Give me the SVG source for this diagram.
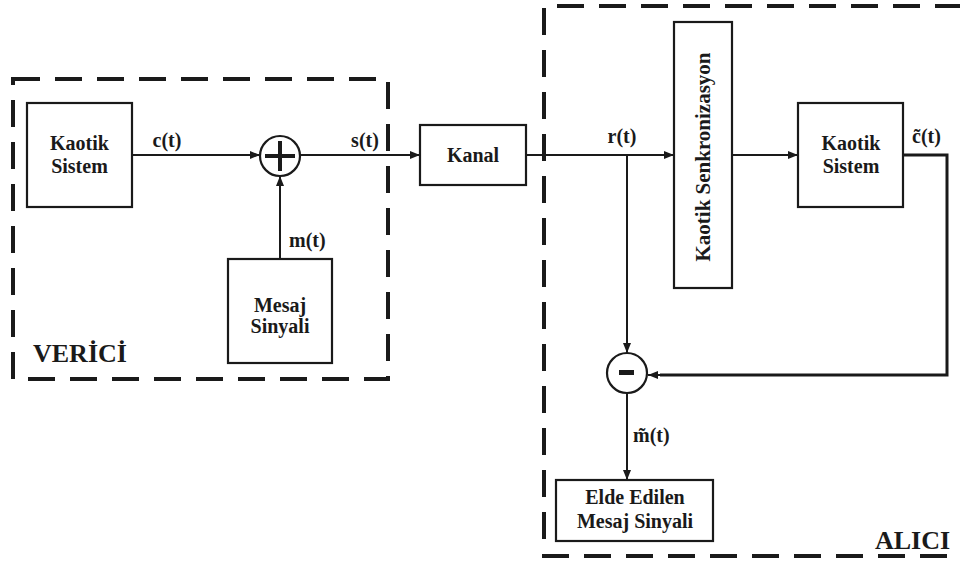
<svg xmlns="http://www.w3.org/2000/svg" width="960" height="561" viewBox="0 0 960 561">
<style>
text{font-weight:bold;font-size:20px;fill:#1a1a1a}
.box{fill:#fff;stroke:#1a1a1a;stroke-width:2.2}
.dash{fill:none;stroke:#1a1a1a;stroke-width:4;stroke-dasharray:27 15}
.ln{fill:none;stroke:#1a1a1a;stroke-width:2}
.big{font-size:26px}
.mid{text-anchor:middle}
</style>
<defs>
<marker id="ah" viewBox="0 0 10 8" refX="10" refY="4" markerWidth="10" markerHeight="8" markerUnits="userSpaceOnUse" orient="auto">
<path d="M0,0 L10,4 L0,8 Z" fill="#1a1a1a"/>
</marker>
</defs>
<rect width="960" height="561" fill="#fff"/>
<g font-family="Liberation Serif, Times New Roman, serif">

<g id="verici">
<path class="dash" d="M13,79 H388 V379 H13 Z"/>
<text class="big" x="33" y="362">VERİCİ</text>
</g>
<g id="alici">
<path class="dash" d="M962,6 H544 V556 H962"/>
<text class="big" x="875" y="549">ALICI</text>
</g>

<g id="connectors">
<path class="ln" d="M132,155 H260" marker-end="url(#ah)"/>
<path class="ln" d="M300,155 H420" marker-end="url(#ah)"/>
<path class="ln" d="M280,259 V176" marker-end="url(#ah)"/>
<path class="ln" d="M526,155 H674" marker-end="url(#ah)"/>
<path class="ln" d="M627,155 V353" marker-end="url(#ah)"/>
<path class="ln" d="M732,155 H798" marker-end="url(#ah)"/>
<path class="ln" d="M903,155 H947 V375 H660" style="stroke-width:3"/>
<path class="ln" d="M660,375 H648" marker-end="url(#ah)"/>
<path class="ln" d="M627,393 V480" marker-end="url(#ah)"/>
<text class="mid" x="167" y="147">c(t)</text>
<text class="mid" x="365" y="147">s(t)</text>
<text x="289" y="247">m(t)</text>
<text class="mid" x="622" y="143">r(t)</text>
<text x="912" y="143">c̃(t)</text>
<text x="633" y="442">m̃(t)</text>
</g>

<g id="kaotik1">
<rect class="box" x="27" y="103" width="105" height="104"/>
<text class="mid" x="79.5" y="150">Kaotik</text>
<text class="mid" x="79.5" y="173">Sistem</text>
</g>
<g id="toplayici">
<circle class="box" cx="280" cy="156" r="20"/>
<path d="M265,156 H295 M280,141 V171" stroke="#1a1a1a" stroke-width="4"/>
</g>
<g id="mesaj">
<rect class="box" x="228" y="259" width="104" height="104"/>
<text class="mid" x="280" y="312">Mesaj</text>
<text class="mid" x="280" y="333">Sinyali</text>
</g>
<g id="kanal">
<rect class="box" x="420" y="125" width="106" height="60"/>
<text class="mid" x="473" y="162">Kanal</text>
</g>
<g id="senkron">
<rect class="box" x="674" y="22" width="58" height="266"/>
<text class="mid" transform="translate(710,157) rotate(-90)" style="font-size:21px">Kaotik Senkronizasyon</text>
</g>
<g id="kaotik2">
<rect class="box" x="798" y="103" width="105" height="104"/>
<text class="mid" x="851" y="150">Kaotik</text>
<text class="mid" x="851" y="173">Sistem</text>
</g>
<g id="fark">
<circle class="box" cx="627" cy="373" r="20"/>
<rect x="619" y="370" width="15" height="5" fill="#1a1a1a"/>
</g>
<g id="elde">
<rect class="box" x="556" y="480" width="157" height="61"/>
<text class="mid" x="635" y="504">Elde Edilen</text>
<text class="mid" x="635" y="528">Mesaj Sinyali</text>
</g>
</g>
</svg>
